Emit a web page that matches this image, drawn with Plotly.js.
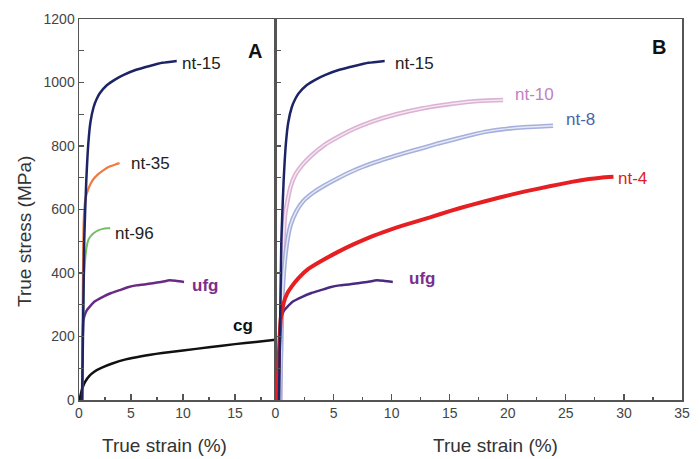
<!DOCTYPE html>
<html>
<head>
<meta charset="utf-8">
<script src="https://cdn.plot.ly/plotly-3.0.1.min.js"></script>
<style>
  html, body { margin: 0; padding: 0; background: #fff; }
  #chart { width: 699px; height: 459px; }
</style>
</head>
<body>
<div id="chart"></div>
<script>
// True stress-strain curves of Cu samples (strain in %, stress in MPa)

// Panel A
const nt15Strain = [0.3, 0.5, 0.7, 0.9, 1.1, 1.4, 1.7, 2.0, 2.7, 3.5, 4.3, 5.5, 6.8, 8.0, 9.4];
const nt15Stress = [0, 500, 690, 810, 875, 922, 948, 966, 992, 1010, 1024, 1040, 1052, 1062, 1068];

const nt35Strain = [0.3, 0.45, 0.6, 0.9, 1.3, 1.8, 2.4, 3.0, 3.5, 3.9];
const nt35Stress = [0, 560, 630, 665, 692, 710, 725, 736, 742, 746];

const nt96Strain = [0.3, 0.5, 0.74, 0.9, 1.1, 1.4, 1.9, 2.3, 2.7, 3.0];
const nt96Stress = [0, 400, 483, 504, 515, 525, 535, 539, 541, 541];

const ufgStrain = [0.3, 0.42, 0.6, 0.8, 1.06, 1.5, 2.3, 3.1, 3.9, 4.7, 5.5, 6.3, 7.1, 7.9, 8.75, 9.4, 10.1];
const ufgStress = [0, 250, 272, 285, 295, 310, 325, 337, 346, 355, 361, 364, 368, 372, 377, 375, 372];

const cgStrain = [0.05, 0.3, 0.6, 1.0, 1.5, 2.2, 3.2, 4.5, 6.0, 8.0, 10.0, 12.5, 15.0, 17.0, 18.9];
const cgStress = [0, 35, 58, 76, 90, 102, 115, 128, 138, 148, 156, 166, 176, 183, 190];

// Panel B
const nt10Strain = [0.4, 0.6, 0.85, 1.3, 1.7, 2.3, 3.1, 4.2, 5.4, 6.8, 8.3, 10.4, 12.6, 14.8, 16.9, 18.3, 19.6];
const nt10Stress = [0, 420, 590, 672, 709, 740, 770, 803, 829, 855, 877, 900, 918, 931, 940, 943, 945];

const nt8Strain = [0.4, 0.6, 0.9, 1.29, 1.8, 2.43, 3.2, 4.0, 5.3, 6.7, 8.3, 9.6, 11.0, 12.6, 14.0, 15.5, 16.9, 18.3, 19.6, 21.7, 23.9];
const nt8Stress = [0, 330, 470, 550, 595, 628, 652, 671, 697, 722, 745, 761, 777, 793, 808, 822, 835, 846, 853, 860, 864];

const nt4Strain = [0.14, 0.3, 0.45, 0.7, 1.0, 1.4, 2.0, 2.8, 3.9, 5.3, 6.7, 8.2, 9.6, 11.0, 13.3, 15.0, 16.8, 19.3, 21.5, 23.6, 25.5, 27.0, 28.0, 29.1];
const nt4Stress = [0, 150, 255, 305, 335, 358, 385, 412, 437, 465, 490, 514, 533, 550, 575, 595, 614, 638, 657, 673, 687, 696, 700, 703];

const xTicksA = [0, 5, 10, 15];
const xTicksB = [0, 5, 10, 15, 20, 25, 30, 35];
const yTicks = [0, 200, 400, 600, 800, 1000, 1200];

const FONT = 'Liberation Sans, Arial, Helvetica, sans-serif';
const SPLIT = 196.5 / 603;   // boundary between the two panels

function line(x, y, color, width, axis) {
  return {
    x: x, y: y, type: 'scatter', mode: 'lines',
    xaxis: axis === 'B' ? 'x2' : 'x', yaxis: axis === 'B' ? 'y2' : 'y',
    line: { color: color, width: width, shape: 'spline', smoothing: 0.5 },
    hoverinfo: 'skip', showlegend: false
  };
}

const traces = [
  // panel A
  line(cgStrain, cgStress, '#111111', 2.5, 'A'),
  line(ufgStrain, ufgStress, '#6a2a84', 2.5, 'A'),
  line(nt96Strain, nt96Stress, '#72c062', 2, 'A'),
  line(nt35Strain, nt35Stress, '#f27a3e', 2.2, 'A'),
  line(nt15Strain, nt15Stress, '#1d2466', 2.5, 'A'),
  // panel B
  line(nt10Strain, nt10Stress, '#dbb2d4', 4.5, 'B'),
  line(nt10Strain, nt10Stress, '#f6e8f3', 1.4, 'B'),
  line(nt8Strain, nt8Stress, '#a6b0dc', 4.5, 'B'),
  line(nt8Strain, nt8Stress, '#e6e9f6', 1.4, 'B'),
  line(ufgStrain, ufgStress, '#4a2a80', 2.5, 'B'),
  line(nt4Strain, nt4Stress, '#e61f22', 4, 'B'),
  line(nt15Strain, nt15Stress, '#1d2466', 2.5, 'B')
];

const axisCommon = {
  showgrid: false, zeroline: false, showline: true,
  linecolor: '#555', linewidth: 1.5,
  ticks: 'inside', tickcolor: '#555', tickwidth: 1.2,
  tickfont: { family: FONT, size: 14, color: '#444' }
};
const minorX = { dtick: 2.5, tick0: 0, ticks: 'inside', ticklen: 3, tickcolor: '#555', tickwidth: 1.2 };
const minorY = { dtick: 100, tick0: 0, ticks: 'inside', ticklen: 5, tickcolor: '#555', tickwidth: 1.2 };

function label(text, x, y, color, bold, axis, size) {
  return {
    text: bold ? '<b>' + text + '</b>' : text,
    x: x, y: y, xref: axis === 'B' ? 'x2' : 'x', yref: axis === 'B' ? 'y2' : 'y',
    showarrow: false, xanchor: 'center', yanchor: 'middle',
    font: { family: FONT, size: size || 17, color: color }
  };
}

function paperText(text, px, py, angle) {
  return {
    text: text, xref: 'paper', yref: 'paper',
    x: (px - 79) / 603, y: (400 - py) / 381, showarrow: false,
    textangle: angle || 0, xanchor: 'center', yanchor: 'middle',
    font: { family: FONT, size: 19, color: '#333' }
  };
}

const layout = {
  width: 699, height: 459,
  margin: { l: 79, r: 17, t: 19, b: 59, pad: 0 },
  paper_bgcolor: '#fff', plot_bgcolor: 'rgba(0,0,0,0)',
  showlegend: false,
  xaxis: Object.assign({}, axisCommon, {
    domain: [0, SPLIT], range: [0, 18.9], anchor: 'y',
    tickvals: xTicksA, ticklen: 6, mirror: true, minor: minorX
  }),
  yaxis: Object.assign({}, axisCommon, {
    domain: [0, 1], range: [0, 1200], anchor: 'x',
    tickvals: yTicks, ticklen: 5, mirror: true, minor: minorY
  }),
  xaxis2: Object.assign({}, axisCommon, {
    domain: [SPLIT, 1], range: [0, 35], anchor: 'y2',
    tickvals: xTicksB, ticklen: 6, mirror: true, minor: minorX
  }),
  yaxis2: Object.assign({}, axisCommon, {
    domain: [0, 1], range: [0, 1200], anchor: 'x2',
    tickvals: yTicks, ticklen: 5, mirror: true, showticklabels: false, minor: minorY
  }),
  annotations: [
    label('A', 16.9, 1099, '#111', true, 'A', 20),
    label('nt-15', 11.83, 1061, '#222', false, 'A'),
    label('nt-35', 6.92, 746, '#222', false, 'A'),
    label('nt-96', 5.29, 526, '#222', false, 'A'),
    label('ufg', 12.1, 362, '#7a2e8e', true, 'A'),
    label('cg', 15.8, 236, '#111', true, 'A'),
    label('B', 33.0, 1112, '#111', true, 'B', 20),
    label('nt-15', 11.95, 1061, '#222', false, 'B'),
    label('nt-10', 22.27, 961, '#c27fbf', false, 'B'),
    label('nt-8', 26.3, 882, '#4a64a8', false, 'B'),
    label('nt-4', 30.7, 699, '#e02020', false, 'B'),
    label('ufg', 12.64, 384, '#7a2e8e', true, 'B'),
    paperText('True strain (%)', 164, 445),
    paperText('True strain (%)', 495, 445),
    paperText('True stress (MPa)', 24, 232, -90)
  ]
};

Plotly.newPlot('chart', traces, layout, { staticPlot: true, displayModeBar: false });
</script>
</body>
</html>
